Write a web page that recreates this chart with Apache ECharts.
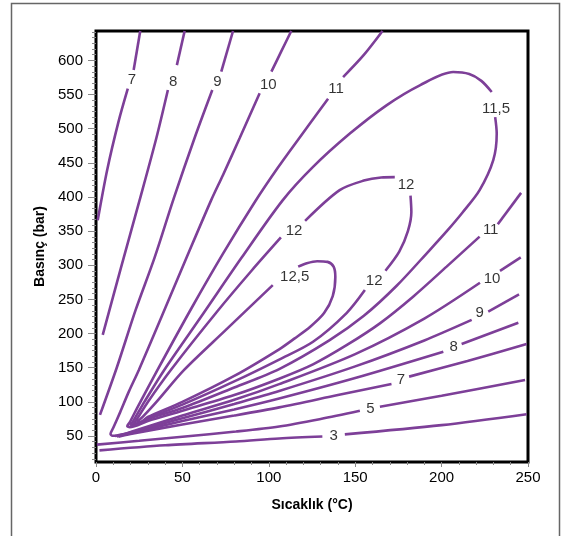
<!DOCTYPE html>
<html>
<head>
<meta charset="utf-8">
<script src="https://cdn.jsdelivr.net/npm/echarts@6/dist/echarts.min.js"></script>
<style>
  html, body { margin: 0; background: #fff; }
  #chart { width: 562px; height: 536px; }
</style>
</head>
<body>
<div id="chart"></div>
<script>
// contour segments [T (°C), P (bar)], broken where the inline labels sit
const c3a = [[2, 29], [40, 36.5], [81, 42], [106, 46.5], [131, 49.3]];
const c3b = [[144, 52.5], [200, 66], [249.2, 82]];
const c5a = [[0.5, 37.5], [25, 43], [50, 49], [81, 56.6], [106, 64], [130, 75], [152.7, 87]];
const c5b = [[164.3, 93], [200, 109], [248.3, 132]];
const c7a = [[1, 366], [6.5, 440], [13, 510], [18.4, 558.6]];
const c7b = [[21.8, 586], [25.6, 643]];
const c7c = [[13, 49], [20, 53], [50, 67], [80, 80], [106, 92], [140, 110], [171, 126.3]];
const c7d = [[181.2, 137], [215, 160], [249.2, 184.8]];
const c8a = [[3.9, 198], [14.5, 297], [25.2, 395], [34.9, 486], [41.6, 556.6]];
const c8b = [[46.8, 593], [51.3, 643]];
const c8c = [[12, 49.5], [20, 54], [50, 72], [80, 89], [106, 105], [150, 135], [201, 173.5]];
const c8d = [[211.6, 184.8], [244.4, 216]];
const c9a = [[2.3, 81], [12, 150], [23, 235], [34, 312], [45, 398], [57, 486], [67.3, 556.6]];
const c9b = [[72.5, 583.5], [79.3, 643]];
const c9c = [[11, 50], [20, 55], [50, 76], [80, 97], [106, 116], [150, 152], [190, 190], [217.4, 220]];
const c9d = [[227, 232.3], [244.8, 257.4]];
const c10a = [[94.7, 551.8], [83.1, 486], [73.5, 432.3], [66.6, 395], [52.3, 310.5], [38, 225],
  [24.8, 146.8], [19, 115], [14, 85], [10, 62], [8.4, 53], [9.5, 50.5], [12, 50.5], [20, 56],
  [50, 80], [80, 103], [106, 126], [150, 170], [190, 222], [222.2, 274.4]];
const c10b = [[101.5, 583.5], [107, 612], [113, 643]];
const c10c = [[233.8, 291.9], [245.8, 311.5]];
const c11a = [[134.3, 543.7], [118, 487.5], [105, 442], [92, 393], [73.5, 317], [55, 236],
  [35.6, 146.8], [24, 92], [19.5, 70], [18.1, 64.5], [19.5, 63], [30, 72], [50, 87], [80, 110],
  [106, 134], [125.6, 155], [145, 183], [164.3, 215], [183.5, 254], [202.9, 298], [222, 342]];
const c11b = [[143, 575.6], [155, 608], [165.8, 643]];
const c11c = [[232.5, 360], [246, 406]];
const c115 = [[229, 553.7], [223, 570], [216, 580], [206.7, 582.9], [187.4, 563.5], [168.1, 534.2],
  [146.9, 492.8], [125.6, 444], [108, 395], [84.1, 310.5], [62, 229], [39.5, 146.8], [28, 100],
  [22, 74], [20, 66.4], [22, 66], [30, 75], [50, 91], [80, 121], [106, 148], [135, 190],
  [155, 226], [174, 270], [193, 322], [203, 350], [212, 377], [222, 410], [229.9, 453.8],
  [231.9, 492.8], [231, 517]];
const c12a = [[107, 340.7], [90, 292], [70, 232], [43.3, 146.8], [30, 100], [24, 76], [21.9, 68.5],
  [23.5, 68], [30, 76], [50, 96], [80, 130], [106, 162], [125.6, 188], [145, 230], [155.6, 263.7]];
const c12b = [[121, 365], [141, 410], [155, 424], [165, 428.5], [172.9, 429]];
const c12c = [[182, 402], [182.5, 378], [180.5, 350], [175.5, 320], [167.5, 292]];
const c125 = [[102.3, 271], [75, 205], [51, 146.8], [35, 100], [27, 78], [23.8, 70.5], [25.5, 70],
  [30, 78], [50, 100], [80, 138], [106, 177], [115, 193], [124, 210], [132, 230], [137, 255],
  [138.5, 283], [137.5, 298], [134, 305], [128, 306], [122, 303], [117, 298]];

// inline contour labels [T, P, text]
const contourLabels = [
  [20.8, 572, '7'], [44.6, 568.6, '8'], [70.2, 568.6, '9'], [99.7, 564.6, '10'],
  [138.9, 558, '11'], [231.5, 529.6, '11,5'], [179.4, 417.3, '12'], [114.6, 350, '12'],
  [115, 282.6, '12,5'], [161, 276.6, '12'], [228.4, 351.5, '11'], [229.2, 280, '10'],
  [222, 230.2, '9'], [207, 180.3, '8'], [176.5, 131.8, '7'], [158.8, 90.4, '5'], [137.5, 50.5, '3']
];

const yMajor = [50, 100, 150, 200, 250, 300, 350, 400, 450, 500, 550, 600];
const yMinor = [];
for (let k = 2; k <= 77; k++) {
  if (k % 6 !== 0) yMinor.push(k * 50 / 6);
}

const segments = [c3a, c3b, c5a, c5b, c7a, c7b, c7c, c7d, c8a, c8b, c8c, c8d,
  c9a, c9b, c9c, c9d, c10a, c10b, c10c, c11a, c11b, c11c, c115, c12a, c12b, c12c, c125];

const purple = '#7d3f98';
const font = 'Liberation Sans, Arial, sans-serif';

const series = segments.map(seg => ({
  type: 'line',
  data: seg,
  smooth: 0.3,
  showSymbol: false,
  silent: true,
  lineStyle: { color: purple, width: 2.6 }
}));
series.push({
  type: 'scatter',
  data: contourLabels,
  symbolSize: 0,
  silent: true,
  label: {
    show: true,
    position: 'inside',
    formatter: p => p.data[2],
    color: '#000',
    fontSize: 15,
    fontFamily: font
  }
});

const chart = echarts.init(document.getElementById('chart'));
chart.setOption({
  animation: false,
  backgroundColor: '#fff',
  graphic: [{
    type: 'rect',
    shape: { x: 11.5, y: 3.5, width: 548, height: 600 },
    style: { fill: 'none', stroke: '#666', lineWidth: 1.5 },
    silent: true
  }],
  grid: {
    left: 96, right: 34, top: 31, bottom: 74,
    show: true, borderColor: '#000', borderWidth: 3, backgroundColor: 'transparent'
  },
  xAxis: {
    type: 'value',
    min: 0, max: 250, interval: 50,
    name: 'Sıcaklık (°C)',
    nameLocation: 'middle',
    nameGap: 36,
    nameTextStyle: { color: '#000', fontSize: 14, fontWeight: 'bold', fontFamily: font },
    axisLine: { show: false },
    axisTick: { show: true, length: 5, lineStyle: { color: '#888' } },
    minorTick: { show: true, splitNumber: 5, length: 3, lineStyle: { color: '#888' } },
    splitLine: { show: false },
    axisLabel: { color: '#000', fontSize: 15, fontFamily: font, margin: 8 }
  },
  yAxis: [{
    type: 'value',
    min: 12, max: 643,
    name: 'Basınç (bar)',
    nameLocation: 'middle',
    nameGap: 49,
    nameTextStyle: { color: '#000', fontSize: 14, fontWeight: 'bold', fontFamily: font },
    axisLine: { show: false },
    axisTick: { show: true, length: 8, customValues: yMajor, lineStyle: { color: '#888' } },
    splitLine: { show: false },
    axisLabel: { color: '#000', fontSize: 15, fontFamily: font, margin: 13, customValues: yMajor }
  }, {
    type: 'value',
    position: 'left',
    min: 12, max: 643,
    axisLine: { show: false },
    axisTick: { show: true, length: 4, customValues: yMinor, lineStyle: { color: '#888' } },
    splitLine: { show: false },
    axisLabel: { show: false }
  }],
  series: series
});
</script>
</body>
</html>
